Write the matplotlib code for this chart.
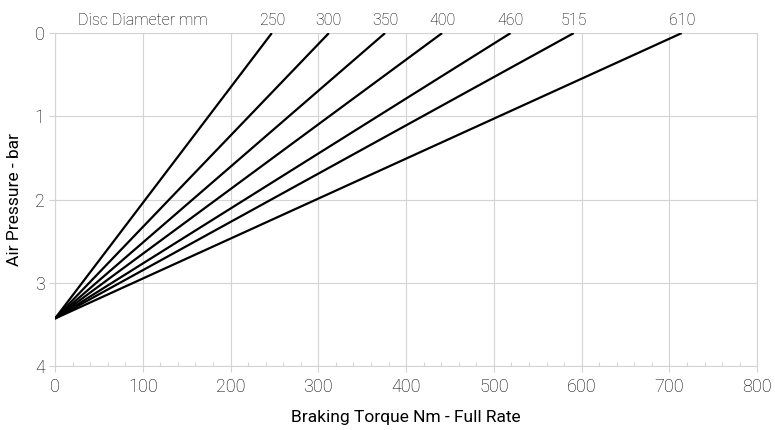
import numpy as np
import matplotlib.pyplot as plt
from matplotlib.ticker import MultipleLocator

plt.rcParams['font.family'] = ['Roboto', 'DejaVu Sans']
plt.rcParams['font.weight'] = 'light'

# disc diameters (mm) and the torque reached at 0 bar for each line
diameters = ["250", "300", "350", "400", "460", "515", "610"]
torque_end = [247, 312, 376, 441, 519, 591, 714]
pressure_start = 3.43  # all lines meet here at zero torque

fig = plt.figure(figsize=(7.75, 4.3), dpi=100)
ax = fig.add_axes([0.071, 0.149, 0.906, 0.774])

for lab, xe in zip(diameters, torque_end):
    ax.plot([0, xe], [pressure_start, 0], color="black", lw=1.6,
            solid_capstyle="butt", zorder=3)
    ax.text(xe, -0.06, lab, ha="center", va="bottom", fontsize=11.5,
            color="black")

ax.text(26, -0.06, "Disc Diameter mm", ha="left", va="bottom", fontsize=11.5,
        color="black")

ax.set_xlim(0, 800)
ax.set_ylim(4, 0)
ax.xaxis.set_major_locator(MultipleLocator(100))
ax.xaxis.set_minor_locator(MultipleLocator(20))
ax.yaxis.set_major_locator(MultipleLocator(1))
ax.grid(True, which="major", color="#d4d4d4", lw=0.8)

for s in ax.spines.values():
    s.set_color("#d4d4d4")
    s.set_linewidth(0.8)

ax.tick_params(axis="both", which="major", color="#d4d4d4",
               labelsize=13, length=4, width=0.8)
ax.tick_params(axis="x", which="minor", direction="in", color="#d4d4d4",
               length=3, width=0.8)
ax.tick_params(axis="x", which="major", pad=5)
for t in ax.get_xticklabels() + ax.get_yticklabels():
    t.set_color("black")

ax.set_xlabel("Braking Torque Nm - Full Rate", fontsize=12.5, labelpad=10,
              color="black")
ax.set_ylabel("Air Pressure - bar", fontsize=12.5, labelpad=9, color="black")

fig.savefig("out.png", dpi=100)
